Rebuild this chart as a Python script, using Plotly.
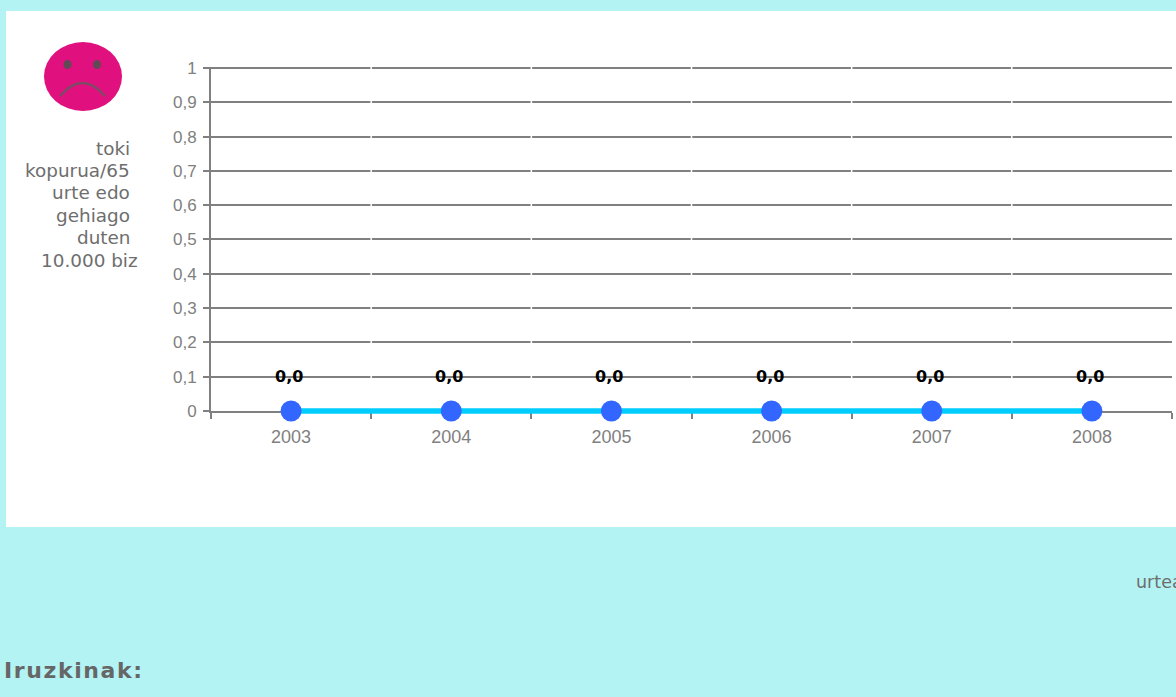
import plotly.graph_objects as go

W, H = 1176, 697
years = ["2003", "2004", "2005", "2006", "2007", "2008"]
values = [0.0, 0.0, 0.0, 0.0, 0.0, 0.0]
value_labels = ["0,0", "0,0", "0,0", "0,0", "0,0", "0,0"]
y_ticks = [0, 0.1, 0.2, 0.3, 0.4, 0.5, 0.6, 0.7, 0.8, 0.9, 1]
y_tick_labels = ["0", "0,1", "0,2", "0,3", "0,4", "0,5", "0,6", "0,7", "0,8", "0,9", "1"]
y_title_lines = ["toki", "kopurua/65", "urte edo", "gehiago", "duten", "10.000 biz"]
x_title = "urtea"
comment_title = "Iruzkinak:"

BG = "#B3F3F3"
GRAY = "#808080"
TEXT = "#6E6E6E"

Y0_PX, Y1_PX = 411.0, 68.0
UNIT = Y0_PX - Y1_PX
Y_TOP = 1.004
Y_LOW = -0.03


def px(x):
    return x / W


def py(y):
    return 1 - y / H


def ellipse(cx, cy, rx, ry, fill):
    return dict(type="circle", xref="paper", yref="paper", layer="above",
                x0=px(cx - rx), x1=px(cx + rx), y0=py(cy + ry), y1=py(cy - ry),
                fillcolor=fill, line=dict(width=0))


shapes = [
    dict(type="rect", xref="paper", yref="paper", layer="below",
         x0=px(6), x1=1, y0=py(527), y1=py(11), fillcolor="white", line=dict(width=0)),
    ellipse(83, 76.5, 39, 34.5, "#E0107F"),
    ellipse(67.5, 64.5, 4, 4.5, "#5F4A55"),
    ellipse(97, 64.5, 4, 4.5, "#5F4A55"),
    dict(type="path", xref="paper", yref="paper", layer="above",
         path=f"M {px(60)} {py(96)} Q {px(82.5)} {py(70)} {px(105)} {py(96)}",
         line=dict(color="#7E4A66", width=2.5)),
]
# small white breaks in the horizontal grid at each category boundary
for i in range(len(years) - 1):
    shapes.append(dict(type="line", xref="x", yref="y", layer="between",
                       x0=i + 0.5, x1=i + 0.5, y0=0.05, y1=Y_TOP,
                       line=dict(color="white", width=1.5)))

annotations = []
title_y = [148, 170.5, 193, 215, 237.5, 260]
title_right = [132, 132, 132, 132, 133, 140]
for line, yy, xr in zip(y_title_lines, title_y, title_right):
    annotations.append(dict(text=line, xref="paper", yref="paper", x=px(xr), y=py(yy),
                            xanchor="right", yanchor="middle", showarrow=False,
                            font=dict(family="DejaVu Sans", size=18.4, color=TEXT)))
annotations.append(dict(text=x_title, xref="paper", yref="paper", x=px(1134), y=py(582),
                        xanchor="left", yanchor="middle", showarrow=False,
                        font=dict(family="DejaVu Sans", size=17.5, color=TEXT)))
annotations.append(dict(text=comment_title, xref="paper", yref="paper", x=px(10), y=py(670),
                        xanchor="left", yanchor="middle", showarrow=False,
                        font=dict(family="DejaVu Sans", size=22, color="#666666", weight="bold")))
for i, (v, lab) in enumerate(zip(values, value_labels)):
    annotations.append(dict(text=lab, x=i, y=v, xref="x", yref="y", yshift=34, xshift=-2,
                            xanchor="center", yanchor="middle", showarrow=False,
                            font=dict(family="DejaVu Sans", size=16, color="black", weight="bold")))

# The series lies on a hidden y axis with the same scale as the visible one,
# extended below zero so the thick line is not cut in half at the plot edge.
fig = go.Figure()
fig.add_trace(go.Scatter(
    x=years, y=values, yaxis="y2", mode="lines+markers", cliponaxis=False,
    line=dict(color="#00CCFF", width=5.5),
    marker=dict(color="#3366FF", size=21, line=dict(width=0)),
    hoverinfo="skip",
))

fig.update_layout(
    width=W, height=H, autosize=False, showlegend=False,
    margin=dict(l=0, r=0, t=0, b=0, pad=0, autoexpand=False),
    paper_bgcolor=BG, plot_bgcolor="rgba(0,0,0,0)",
    shapes=shapes, annotations=annotations,
    xaxis=dict(domain=[px(211), px(1172)], type="category", categoryorder="array",
               categoryarray=years, range=[-0.5, 5.5], tickmode="linear", tick0=0, dtick=1,
               tickangle=0, tickson="boundaries", ticks="outside", ticklen=6, anchor="y",
               tickwidth=2, tickcolor=GRAY, showline=True, linecolor=GRAY, linewidth=2,
               showgrid=False, zeroline=False,
               tickfont=dict(family="Liberation Sans", size=18, color=GRAY),
               ticklabelstandoff=8),
    yaxis=dict(domain=[py(Y0_PX), py(Y1_PX - (Y_TOP - 1) * UNIT)], range=[0, Y_TOP],
               tickmode="array", tickvals=y_ticks, anchor="x",
               ticktext=y_tick_labels, ticks="outside", ticklen=6, tickwidth=2, tickcolor=GRAY,
               showline=True, linecolor=GRAY, linewidth=2, showgrid=True, gridcolor=GRAY,
               gridwidth=2, zeroline=False, ticklabelstandoff=3,
               tickfont=dict(family="Liberation Sans", size=17, color=GRAY)),
    yaxis2=dict(domain=[py(Y0_PX - Y_LOW * UNIT), py(Y1_PX - (Y_TOP - 1) * UNIT)],
                range=[Y_LOW, Y_TOP], visible=False, anchor="x", showgrid=False, zeroline=False),
)

post = """
document.body.style.margin='0';document.body.style.overflow='hidden';
document.querySelectorAll('text.annotation-text').forEach(function(t){
  if(t.textContent==='Iruzkinak:'){t.style.letterSpacing='1.6px';}
});
"""
fig.write_html("out.html", config=dict(displayModeBar=False), post_script=post)
